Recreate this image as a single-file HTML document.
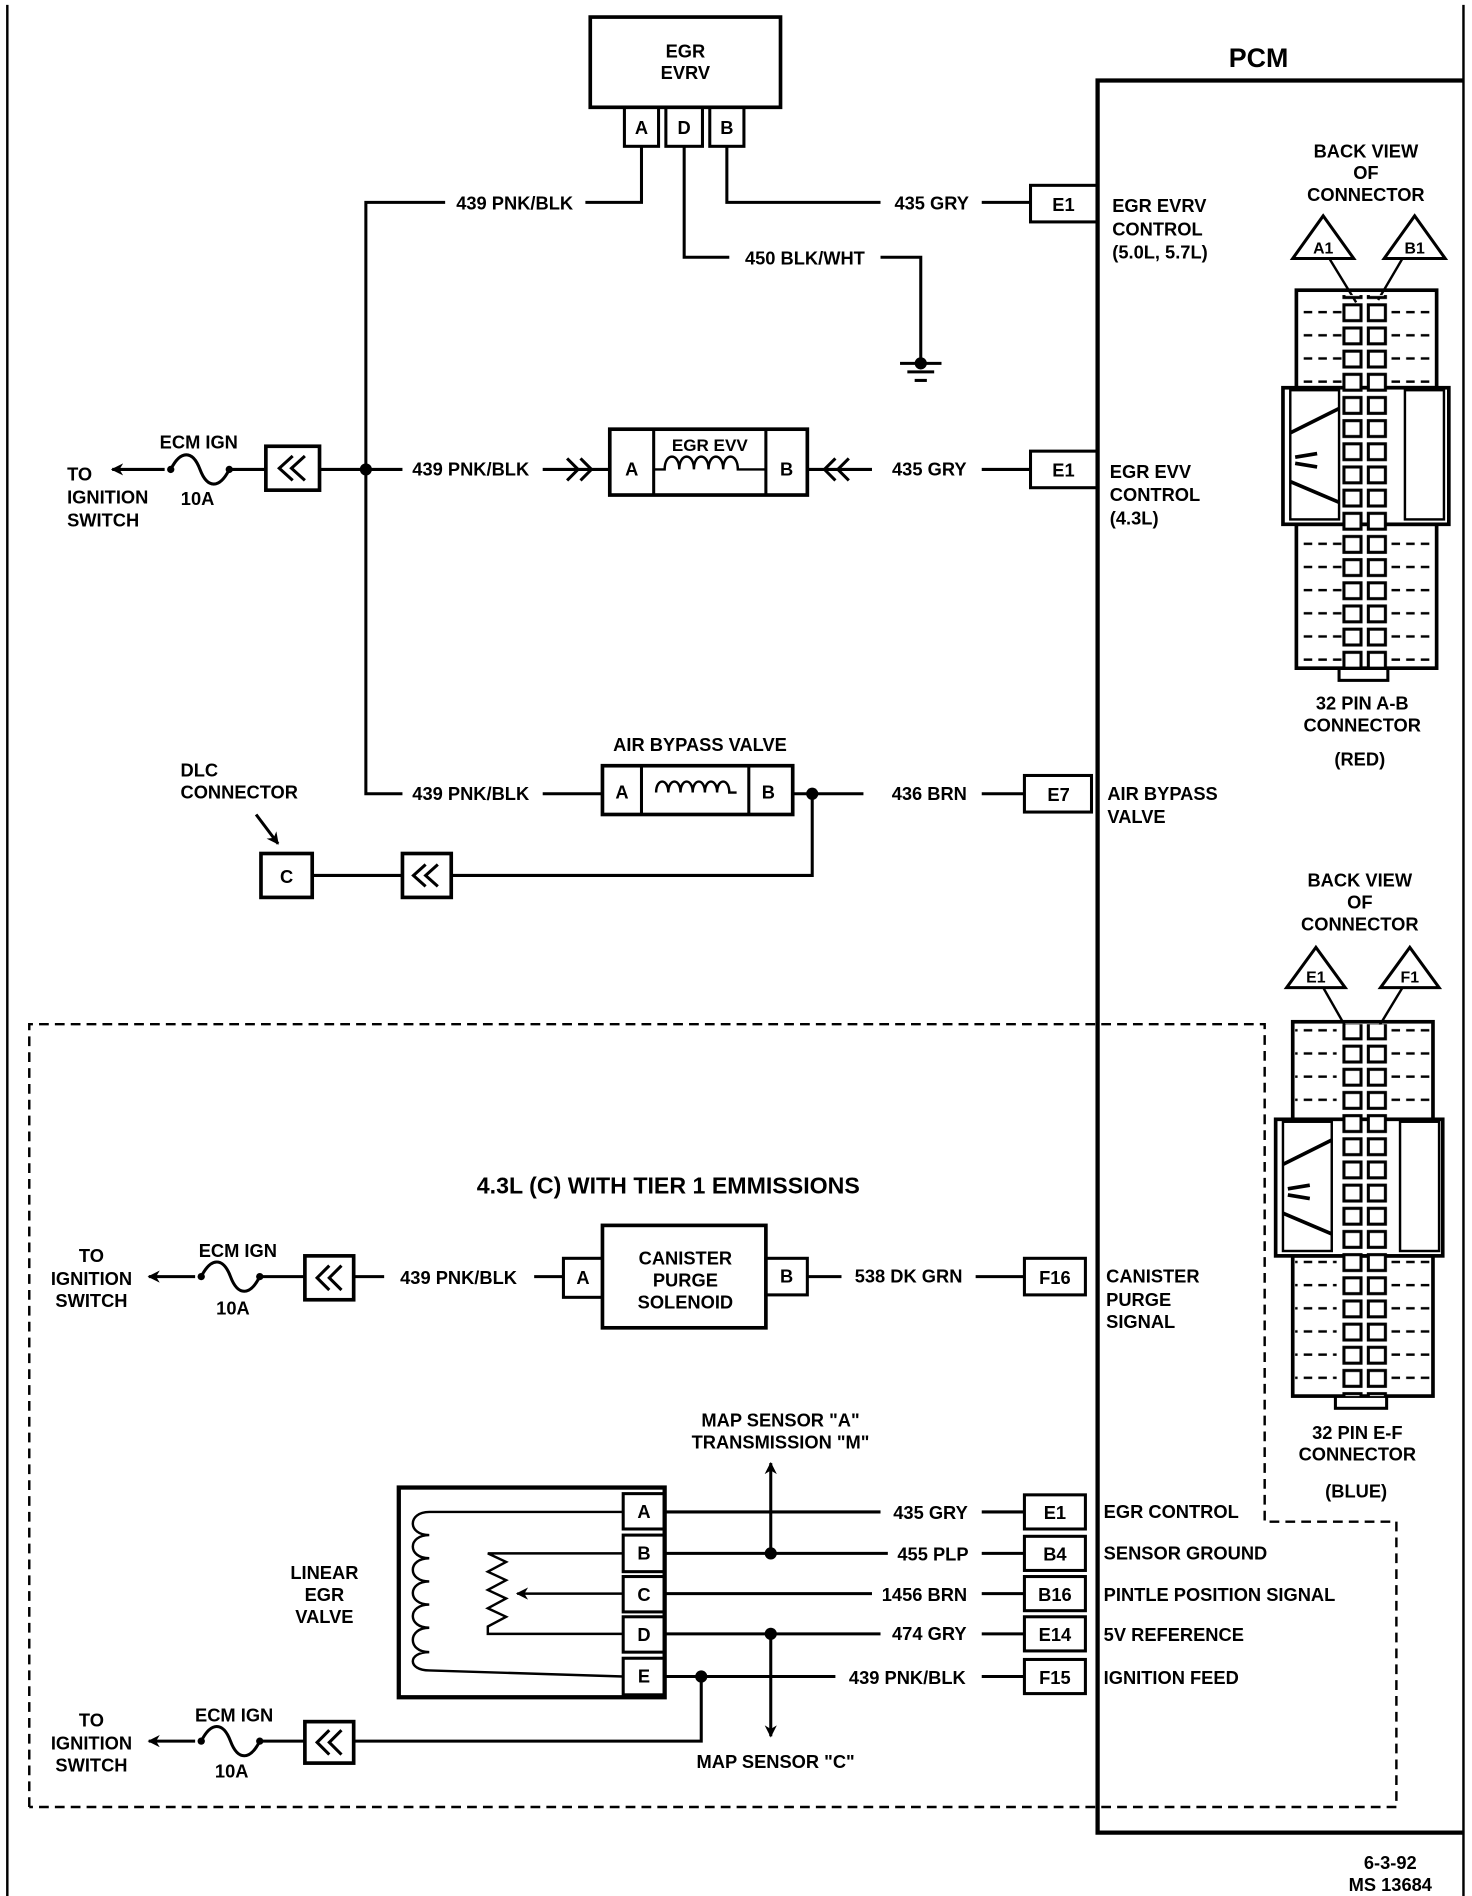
<!DOCTYPE html>
<html><head><meta charset="utf-8"><style>
html,body{margin:0;padding:0;background:#fff}
svg{display:block}
text{font-family:"Liberation Sans",sans-serif;font-weight:bold;font-size:15px;fill:#000}
</style></head><body>
<svg width="1472" height="1896" viewBox="0 0 1207 1555" preserveAspectRatio="none" xmlns="http://www.w3.org/2000/svg">
<defs>
<pattern id="pins" x="0" y="0" width="40" height="19" patternUnits="userSpaceOnUse">
<rect x="2" y="3" width="14" height="13" fill="#fff" stroke="#000" stroke-width="2.5"/>
<rect x="22" y="3" width="14" height="13" fill="#fff" stroke="#000" stroke-width="2.5"/>
</pattern>
<pattern id="dash" x="0" y="0" width="12" height="19" patternUnits="userSpaceOnUse">
<line x1="1" y1="9" x2="8" y2="9" stroke="#000" stroke-width="2"/>
</pattern>
<marker id="ah" markerWidth="10" markerHeight="10" refX="9" refY="5" orient="auto" markerUnits="userSpaceOnUse"><path d="M0,0 L10,5 L0,10 L3,5Z" fill="#000"/></marker>
</defs>
<g fill="none" stroke="#000" stroke-width="2.5">
<!-- frame -->
<polyline points="1200,4 1200,1564 6,1564 6,4" stroke-width="2"/>
<!-- PCM -->
<polyline points="1200,66 900,66 900,1503 1200,1503" stroke-width="3.5"/>
<!-- EGR EVRV -->
<rect x="484" y="14" width="156" height="74" stroke-width="3"/>
<rect x="512" y="88" width="28" height="32"/><rect x="546" y="88" width="30" height="32"/><rect x="582" y="88" width="28" height="32"/>
<polyline points="526,120 526,166 480,166"/>
<polyline points="365,166 300,166 300,651 330,651"/>
<polyline points="561,120 561,211 598,211"/>
<polyline points="722,211 755,211 755,298"/>
<line x1="738" y1="298" x2="772" y2="298"/><line x1="744" y1="305" x2="766" y2="305"/><line x1="750" y1="312" x2="760" y2="312"/>
<polyline points="596,120 596,166 722,166"/>
<line x1="805" y1="166" x2="845" y2="166"/>
<rect x="845" y="152" width="55" height="30"/>
<!-- row 2 -->
<line x1="135" y1="385" x2="92" y2="385" marker-end="url(#ah)"/>
<path d="M140,385 c8,-16 18,-16 24,0 s16,16 24,0"/>
<line x1="190" y1="385" x2="218" y2="385"/>
<rect x="218" y="366" width="44" height="36" stroke-width="3"/>
<polyline points="240,374 229,384 240,394"/><polyline points="250,374 239,384 250,394"/>
<line x1="262" y1="385" x2="330" y2="385"/>
<line x1="445" y1="385" x2="500" y2="385"/>
<polyline points="465,376 474,385 465,394"/><polyline points="476,376 485,385 476,394"/>
<rect x="500" y="352" width="162" height="54" stroke-width="3"/>
<line x1="536" y1="352" x2="536" y2="406"/><line x1="628" y1="352" x2="628" y2="406"/>
<path d="M536,385 L545,385 c0,-14 12,-14 12,0 c0,-14 12,-14 12,0 c0,-14 12,-14 12,0 c0,-14 12,-14 12,0 c0,-14 12,-14 12,0 L628,385" stroke-width="2"/>
<line x1="662" y1="385" x2="715" y2="385"/>
<polyline points="685,376 676,385 685,394"/><polyline points="696,376 687,385 696,394"/>
<line x1="805" y1="385" x2="845" y2="385"/>
<rect x="845" y="370" width="55" height="30"/>
<!-- row 3 -->
<line x1="445" y1="651" x2="494" y2="651"/>
<rect x="494" y="628" width="156" height="40" stroke-width="3"/>
<line x1="526" y1="628" x2="526" y2="668"/><line x1="614" y1="628" x2="614" y2="668"/>
<path d="M538,650 c0,-12 10,-12 10,0 c0,-12 10,-12 10,0 c0,-12 10,-12 10,0 c0,-12 10,-12 10,0 c0,-12 10,-12 10,0 c0,-12 10,-12 10,0 l6,0" stroke-width="2"/>
<line x1="650" y1="651" x2="708" y2="651"/>
<line x1="805" y1="651" x2="840" y2="651"/>
<rect x="840" y="636" width="55" height="30"/>
<line x1="210" y1="668" x2="228" y2="692" marker-end="url(#ah)"/>
<rect x="214" y="700" width="42" height="36" stroke-width="3"/>
<line x1="256" y1="718" x2="330" y2="718"/>
<rect x="330" y="700" width="40" height="36" stroke-width="3"/>
<polyline points="349,709 339,718 349,727"/><polyline points="359,709 349,718 359,727"/>
<polyline points="370,718 666,718 666,651"/>
<!-- dashed region -->
<polyline points="24,1482 24,840 1037,840 1037,1248 1145,1248 1145,1482 24,1482" stroke-width="2" stroke-dasharray="8,5"/>
<!-- canister row -->
<line x1="160" y1="1047" x2="122" y2="1047" marker-end="url(#ah)"/>
<path d="M165,1047 c8,-16 18,-16 24,0 s16,16 24,0"/>
<line x1="215" y1="1047" x2="250" y2="1047"/>
<rect x="250" y="1030" width="40" height="36" stroke-width="3"/>
<polyline points="270,1038 260,1048 270,1058"/><polyline points="280,1038 270,1048 280,1058"/>
<line x1="290" y1="1047" x2="315" y2="1047"/>
<line x1="438" y1="1047" x2="462" y2="1047"/>
<rect x="462" y="1032" width="32" height="32"/>
<rect x="494" y="1005" width="134" height="84" stroke-width="3"/>
<rect x="628" y="1032" width="34" height="30"/>
<line x1="662" y1="1047" x2="690" y2="1047"/>
<line x1="800" y1="1047" x2="840" y2="1047"/>
<rect x="840" y="1032" width="50" height="30"/>
<!-- linear EGR -->
<rect x="327" y="1220" width="218" height="172" stroke-width="3.5"/>
<rect x="511" y="1225" width="34" height="29"/><rect x="511" y="1259" width="34" height="30"/><rect x="511" y="1293" width="34" height="29"/><rect x="511" y="1326" width="34" height="29"/><rect x="511" y="1360" width="34" height="30"/>
<path d="M511,1240 L352,1240 c-18,0 -18,19 0,19 c-18,0 -18,19 0,19 c-18,0 -18,19 0,19 c-18,0 -18,19 0,19 c-18,0 -18,19 0,19 c-18,0 -18,20 0,20 c-18,0 -18,15 0,15 L511,1375" stroke-width="2"/>
<path d="M511,1274 L400,1274 l15,7 l-15,8 l15,7 l-15,8 l15,7 l-15,8 l15,7 l-15,8 L400,1340 L511,1340" stroke-width="2"/>
<line x1="511" y1="1307" x2="424" y2="1307" stroke-width="2" marker-end="url(#ah)"/>
<line x1="545" y1="1240" x2="722" y2="1240"/>
<line x1="545" y1="1274" x2="728" y2="1274"/>
<line x1="545" y1="1307" x2="715" y2="1307"/>
<line x1="545" y1="1340" x2="722" y2="1340"/>
<line x1="545" y1="1375" x2="685" y2="1375"/>
<line x1="632" y1="1274" x2="632" y2="1200" marker-end="url(#ah)"/>
<line x1="632" y1="1340" x2="632" y2="1424" marker-end="url(#ah)"/>
<polyline points="575,1375 575,1428 290,1428"/>
<line x1="805" y1="1240" x2="840" y2="1240"/><line x1="805" y1="1274" x2="840" y2="1274"/><line x1="805" y1="1307" x2="840" y2="1307"/><line x1="805" y1="1340" x2="840" y2="1340"/><line x1="805" y1="1375" x2="840" y2="1375"/>
<rect x="840" y="1226" width="50" height="28"/><rect x="840" y="1260" width="50" height="28"/><rect x="840" y="1293" width="50" height="28"/><rect x="840" y="1326" width="50" height="28"/><rect x="840" y="1361" width="50" height="28"/>
<rect x="250" y="1412" width="40" height="34" stroke-width="3"/>
<polyline points="270,1419 260,1429 270,1439"/><polyline points="280,1419 270,1429 280,1439"/>
<line x1="250" y1="1428" x2="215" y2="1428"/>
<path d="M165,1428 c8,-16 18,-16 24,0 s16,16 24,0"/>
<line x1="160" y1="1428" x2="122" y2="1428" marker-end="url(#ah)"/>
</g>
<!-- connector fills (upper/lower sections only) -->
<rect x="1065" y="240" width="35" height="78" fill="url(#dash)"/>
<rect x="1140" y="240" width="36" height="78" fill="url(#dash)"/>
<rect x="1065" y="430" width="35" height="116" fill="url(#dash)"/>
<rect x="1140" y="430" width="36" height="116" fill="url(#dash)"/>
<rect x="1062" y="840" width="34" height="78" fill="url(#dash)"/>
<rect x="1138" y="840" width="35" height="78" fill="url(#dash)"/>
<rect x="1062" y="1030" width="34" height="113" fill="url(#dash)"/>
<rect x="1138" y="1030" width="35" height="113" fill="url(#dash)"/>
<g fill="none" stroke="#000" stroke-width="2.5">
<!-- connector 1 -->
<polygon points="1085,177 1060,212 1110,212"/><polygon points="1160,177 1135,212 1185,212"/>
<line x1="1090" y1="212" x2="1112" y2="248" stroke-width="2"/><line x1="1150" y1="212" x2="1130" y2="246" stroke-width="2"/>
<rect x="1063" y="238" width="115" height="80" stroke-width="3"/>
<rect x="1063" y="430" width="115" height="118" stroke-width="3"/>
<rect x="1052" y="318" width="136" height="112" stroke-width="3" fill="#fff"/>
<rect x="1058" y="320" width="40" height="106" stroke-width="2"/><rect x="1152" y="320" width="32" height="106" stroke-width="2"/>
<path d="M1058,355 L1098,335 M1058,395 L1098,412 M1062,375 L1080,372 M1062,380 L1080,383" stroke-width="3"/>
<rect x="1098" y="548" width="40" height="10" stroke-width="2.5"/>
<!-- connector 2 -->
<polygon points="1079,777 1055,810 1103,810"/><polygon points="1156,777 1132,810 1180,810"/>
<line x1="1085" y1="810" x2="1105" y2="845" stroke-width="2"/><line x1="1150" y1="810" x2="1130" y2="843" stroke-width="2"/>
<rect x="1060" y="838" width="115" height="80" stroke-width="3"/>
<rect x="1060" y="1030" width="115" height="115" stroke-width="3"/>
<rect x="1046" y="918" width="137" height="112" stroke-width="3" fill="#fff"/>
<rect x="1052" y="920" width="40" height="106" stroke-width="2"/><rect x="1148" y="920" width="32" height="106" stroke-width="2"/>
<path d="M1052,955 L1092,935 M1052,995 L1092,1012 M1056,975 L1074,972 M1056,980 L1074,983" stroke-width="3"/>
<rect x="1095" y="1145" width="42" height="10" stroke-width="2.5"/>
</g>
<rect x="1098" y="242" width="42" height="306" fill="url(#pins)"/>
<rect x="1098" y="840" width="42" height="305" fill="url(#pins)"/>
<!-- dots -->
<g fill="#000"><circle cx="300" cy="385" r="5"/><circle cx="666" cy="651" r="5"/><circle cx="632" cy="1274" r="5"/><circle cx="632" cy="1340" r="5"/><circle cx="575" cy="1375" r="5"/><circle cx="755" cy="298" r="5"/>
<circle cx="140" cy="385" r="3"/><circle cx="188" cy="385" r="3"/><circle cx="165" cy="1047" r="3"/><circle cx="213" cy="1047" r="3"/><circle cx="165" cy="1428" r="3"/><circle cx="213" cy="1428" r="3"/></g>
<!-- text -->
<g text-anchor="middle">
<text x="1032" y="55" style="font-size:22px">PCM</text>
<text x="562" y="47">EGR</text><text x="562" y="65">EVRV</text>
<text x="526" y="110">A</text><text x="561" y="110">D</text><text x="596" y="110">B</text>
<text x="422" y="172">439 PNK/BLK</text><text x="660" y="217">450 BLK/WHT</text><text x="764" y="172">435 GRY</text><text x="872" y="173">E1</text>
<text x="163" y="368">ECM IGN</text><text x="162" y="414">10A</text>
<text x="386" y="390">439 PNK/BLK</text><text x="518" y="390">A</text><text x="645" y="390">B</text><text x="582" y="370" style="font-size:14px">EGR EVV</text>
<text x="762" y="390">435 GRY</text><text x="872" y="391">E1</text>
<text x="574" y="616">AIR BYPASS VALVE</text><text x="386" y="656">439 PNK/BLK</text><text x="510" y="655">A</text><text x="630" y="655">B</text>
<text x="762" y="656">436 BRN</text><text x="868" y="657">E7</text>
<text x="235" y="724">C</text>
<text x="548" y="979" style="font-size:19px">4.3L (C) WITH TIER 1 EMMISSIONS</text>
<text x="195" y="1031">ECM IGN</text><text x="191" y="1078">10A</text>
<text x="376" y="1053">439 PNK/BLK</text><text x="478" y="1053">A</text><text x="645" y="1052">B</text>
<text x="562" y="1037">CANISTER</text><text x="562" y="1055">PURGE</text><text x="562" y="1073">SOLENOID</text>
<text x="745" y="1052">538 DK GRN</text><text x="865" y="1053">F16</text>
<text x="640" y="1170">MAP SENSOR "A"</text><text x="640" y="1188">TRANSMISSION "M"</text>
<text x="266" y="1295">LINEAR</text><text x="266" y="1313">EGR</text><text x="266" y="1331">VALVE</text>
<text x="528" y="1245">A</text><text x="528" y="1279">B</text><text x="528" y="1313">C</text><text x="528" y="1346">D</text><text x="528" y="1380">E</text>
<text x="763" y="1246">435 GRY</text><text x="765" y="1280">455 PLP</text><text x="758" y="1313">1456 BRN</text><text x="762" y="1345">474 GRY</text><text x="744" y="1381">439 PNK/BLK</text>
<text x="865" y="1246">E1</text><text x="865" y="1280">B4</text><text x="865" y="1313">B16</text><text x="865" y="1346">E14</text><text x="865" y="1381">F15</text>
<text x="636" y="1450">MAP SENSOR "C"</text>
<text x="192" y="1412">ECM IGN</text><text x="190" y="1458">10A</text>
<text x="1120" y="129">BACK VIEW</text><text x="1120" y="147">OF</text><text x="1120" y="165">CONNECTOR</text>
<text x="1085" y="208" style="font-size:13px">A1</text><text x="1160" y="208" style="font-size:13px">B1</text>
<text x="1117" y="582">32 PIN A-B</text><text x="1117" y="600">CONNECTOR</text><text x="1115" y="628">(RED)</text>
<text x="1115" y="727">BACK VIEW</text><text x="1115" y="745">OF</text><text x="1115" y="763">CONNECTOR</text>
<text x="1079" y="806" style="font-size:13px">E1</text><text x="1156" y="806" style="font-size:13px">F1</text>
<text x="1113" y="1180">32 PIN E-F</text><text x="1113" y="1198">CONNECTOR</text><text x="1112" y="1228">(BLUE)</text>
<text x="1140" y="1533">6-3-92</text><text x="1140" y="1551">MS 13684</text>
</g>
<g>
<text x="55" y="394">TO</text><text x="55" y="413">IGNITION</text><text x="55" y="432">SWITCH</text>
<text x="912" y="174">EGR EVRV</text><text x="912" y="193">CONTROL</text><text x="912" y="212">(5.0L, 5.7L)</text>
<text x="910" y="392">EGR EVV</text><text x="910" y="411">CONTROL</text><text x="910" y="430">(4.3L)</text>
<text x="148" y="637">DLC</text><text x="148" y="655">CONNECTOR</text>
<text x="908" y="656">AIR BYPASS</text><text x="908" y="675">VALVE</text>
<text x="907" y="1052">CANISTER</text><text x="907" y="1071">PURGE</text><text x="907" y="1089">SIGNAL</text>
<text x="905" y="1245">EGR CONTROL</text><text x="905" y="1279">SENSOR GROUND</text><text x="905" y="1313">PINTLE POSITION SIGNAL</text><text x="905" y="1346">5V REFERENCE</text><text x="905" y="1381">IGNITION FEED</text>
</g>
<g text-anchor="middle">
<text x="75" y="1035">TO</text><text x="75" y="1054">IGNITION</text><text x="75" y="1072">SWITCH</text>
<text x="75" y="1416">TO</text><text x="75" y="1435">IGNITION</text><text x="75" y="1453">SWITCH</text>
</g>
</svg>
</body></html>
